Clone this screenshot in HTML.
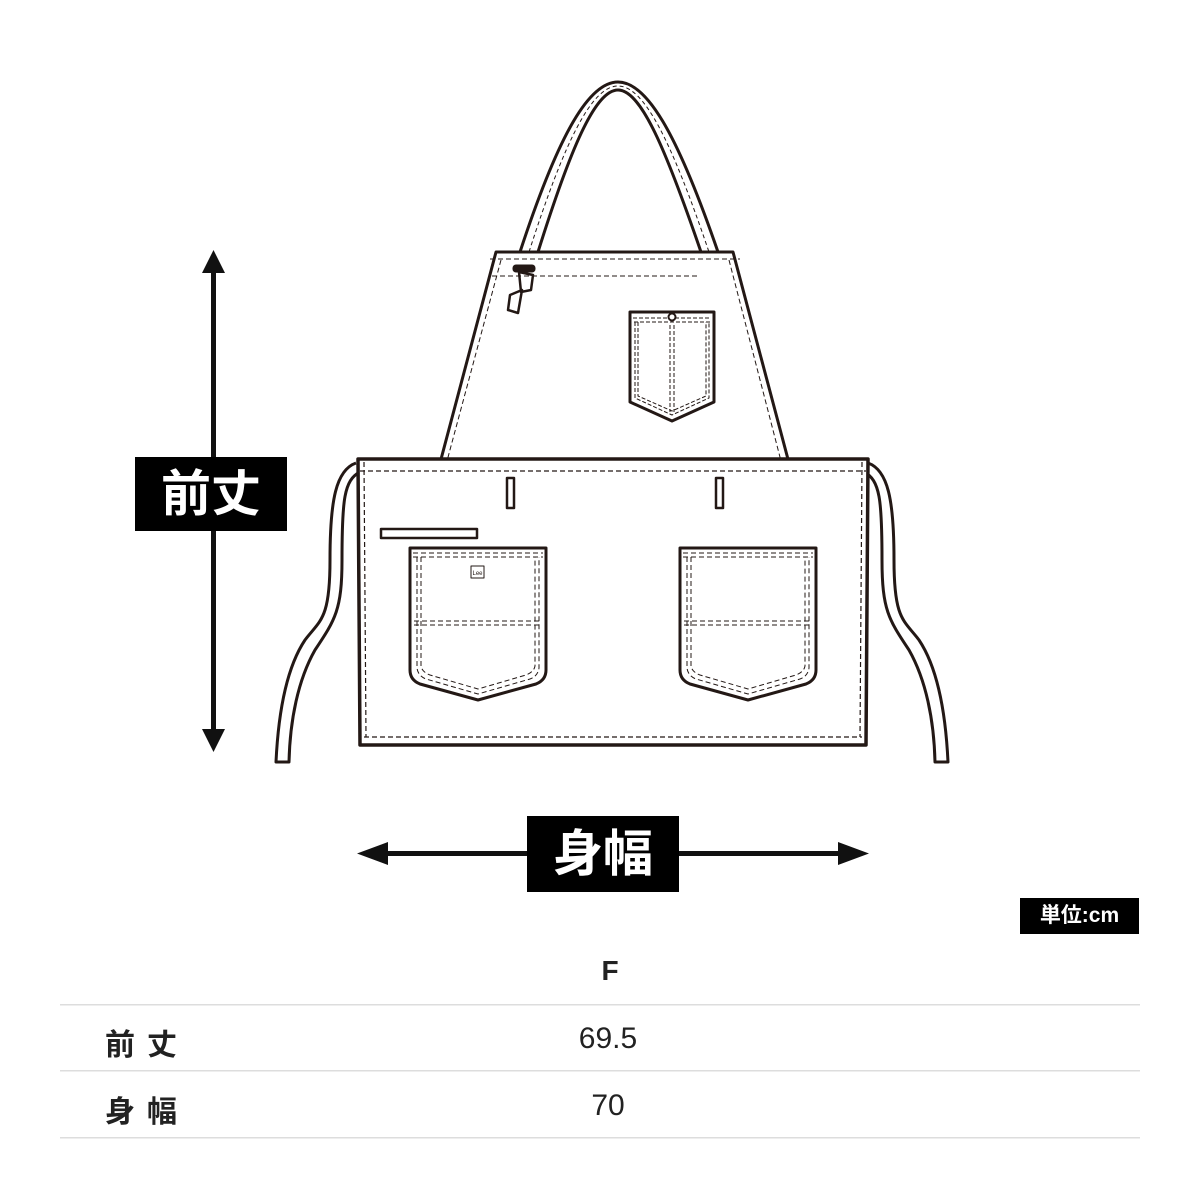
<!DOCTYPE html>
<html><head><meta charset="utf-8"><style>
html,body{margin:0;padding:0;background:#fff;}
body{width:1200px;height:1200px;position:relative;overflow:hidden;font-family:"Liberation Sans","Noto Sans CJK JP",sans-serif;}
.t{position:absolute;color:#222;font-size:30px;}
</style></head><body>
<svg width="1200" height="1200" style="position:absolute;left:0;top:0" xmlns="http://www.w3.org/2000/svg">
<g fill="none" stroke="#231815" stroke-linejoin="round">
<!-- strap -->
<path d="M520 252 C560 130 590 82 618 82 C646 82 676 130 718 252" stroke-width="3"/>
<path d="M538 252 C570 150 595 90 618 90 C641 90 666 150 701 252" stroke-width="3"/>
<path d="M529 252 C565 140 592 86 618 86 C644 86 671 140 709 252" stroke-width="1" stroke-dasharray="4 3"/>
<!-- ties -->
<path d="M356 463 C336 470 330 500 330 560 C330 620 320 620 305 640 C285 670 278 720 276 762 L289 762 C290 720 298 680 315 650 C335 620 342 610 342 560 C342 500 344 480 360 472" fill="#fff" stroke-width="3"/>
<path d="M868 463 C888 470 894 500 894 560 C894 620 904 620 919 640 C939 670 946 720 948 762 L935 762 C934 720 926 680 909 650 C889 620 882 610 882 560 C882 500 880 480 864 472" fill="#fff" stroke-width="3"/>
<!-- bib -->
<path d="M496 252 L733 252 L789 463 L440 463 Z" fill="#fff" stroke-width="3"/>
<path d="M490 259 L740 259" stroke-width="1" stroke-dasharray="5 3"/>
<path d="M492 276 L700 276 M501 260 L447 461 M729 260 L781 461" stroke-width="1" stroke-dasharray="5 3"/>
<!-- buckle -->
<rect x="513" y="265" width="22" height="7" rx="3" fill="#231815"/>
<path d="M519 272 L533 275 L531 290 L521 292 Z M510 295 L522 290 L518 313 L508 310 Z" stroke-width="2.5"/>
<!-- main panel -->
<path d="M358 459 L868 459 L866 745 L360 745 Z" fill="#fff" stroke-width="3.5"/>
<path d="M360 471 L866 471 M364 737 L862 737 M364 462 L366 737 M862 462 L860 737" stroke-width="1.2" stroke-dasharray="5 3"/>
<rect x="507" y="478" width="7" height="30" stroke-width="2.5"/>
<rect x="716" y="478" width="7" height="30" stroke-width="2.5"/>
<rect x="381" y="529" width="96" height="9" stroke-width="2.5"/>
<!-- chest pocket -->
<path d="M630 312 L714 312 L714 402 L672 421 L630 402 Z" stroke-width="3"/>
<path d="M633 318 L711 318 M634 322 L710 322 M635 322 L635 398 L672 415 L709 398 L709 322 M638 322 L638 396 L672 411 L706 396 L706 322 M670 325 L670 412 M674 325 L674 412" stroke-width="1" stroke-dasharray="4 2"/>
<circle cx="672" cy="317" r="3.5" fill="#fff" stroke-width="2"/>
<!-- big pockets -->
<g id="pk">
<path d="M410 548 L546 548 L546 670 Q546 680 536 684 L478 700 L420 684 Q410 680 410 670 Z" fill="#fff" stroke-width="3"/>
<path d="M413 553 L543 553 M413 557 L543 557 M414 621 L542 621 M414 625 L542 625 M417 557 L417 668 Q418 676 426 679 L478 694 L530 679 Q538 676 539 668 L539 557 M421 557 L421 666 Q422 672 430 675 L478 689 L526 675 Q534 672 535 666 L535 557" stroke-width="1" stroke-dasharray="5 3"/>
</g>
<use href="#pk" x="270"/>
<rect x="471" y="566" width="13" height="12" stroke-width="1"/>
</g>
<text x="477.5" y="575" font-size="6" text-anchor="middle" fill="#231815" font-family="Liberation Sans">Lee</text>
<!-- vertical arrow -->
<g fill="#111">
<rect x="211" y="268" width="5" height="466"/>
<path d="M213.5 250 L202 273 L225 273 Z M213.5 752 L202 729 L225 729 Z"/>
<rect x="135" y="457" width="152" height="74" fill="#000"/>
<rect x="378" y="851" width="470" height="5"/>
<path d="M357 853.5 L388 842 L388 865 Z M869 853.5 L838 842 L838 865 Z"/>
<rect x="527" y="816" width="152" height="76" fill="#000"/>
<rect x="1020" y="898" width="119" height="36" fill="#000"/>
</g>
<g fill="#ddd"><rect x="60" y="1004" width="1080" height="1.5"/><rect x="60" y="1070" width="1080" height="1.5"/><rect x="60" y="1137" width="1080" height="1.5"/></g>
</svg>
<div class="t" style="left:135px;top:457px;width:152px;height:74px;line-height:74px;text-align:center;color:#fff;font-size:50px;font-weight:bold;">前丈</div>
<div class="t" style="left:527px;top:816px;width:152px;height:76px;line-height:76px;text-align:center;color:#fff;font-size:50px;font-weight:bold;">身幅</div>
<div class="t" style="left:1020px;top:898px;width:119px;height:36px;line-height:36px;text-align:center;color:#fff;font-size:21px;font-weight:bold;">単位:cm</div>
<div class="t" style="left:560px;top:955px;width:100px;text-align:center;font-weight:bold;font-size:28px;">F</div>
<div class="t" style="left:105px;top:1020px;font-weight:bold;letter-spacing:12px;">前丈</div>
<div class="t" style="left:540px;top:1022px;width:136px;text-align:center;">69.5</div>
<div class="t" style="left:105px;top:1087px;font-weight:bold;letter-spacing:12px;">身幅</div>
<div class="t" style="left:540px;top:1089px;width:136px;text-align:center;">70</div>
</body></html>
